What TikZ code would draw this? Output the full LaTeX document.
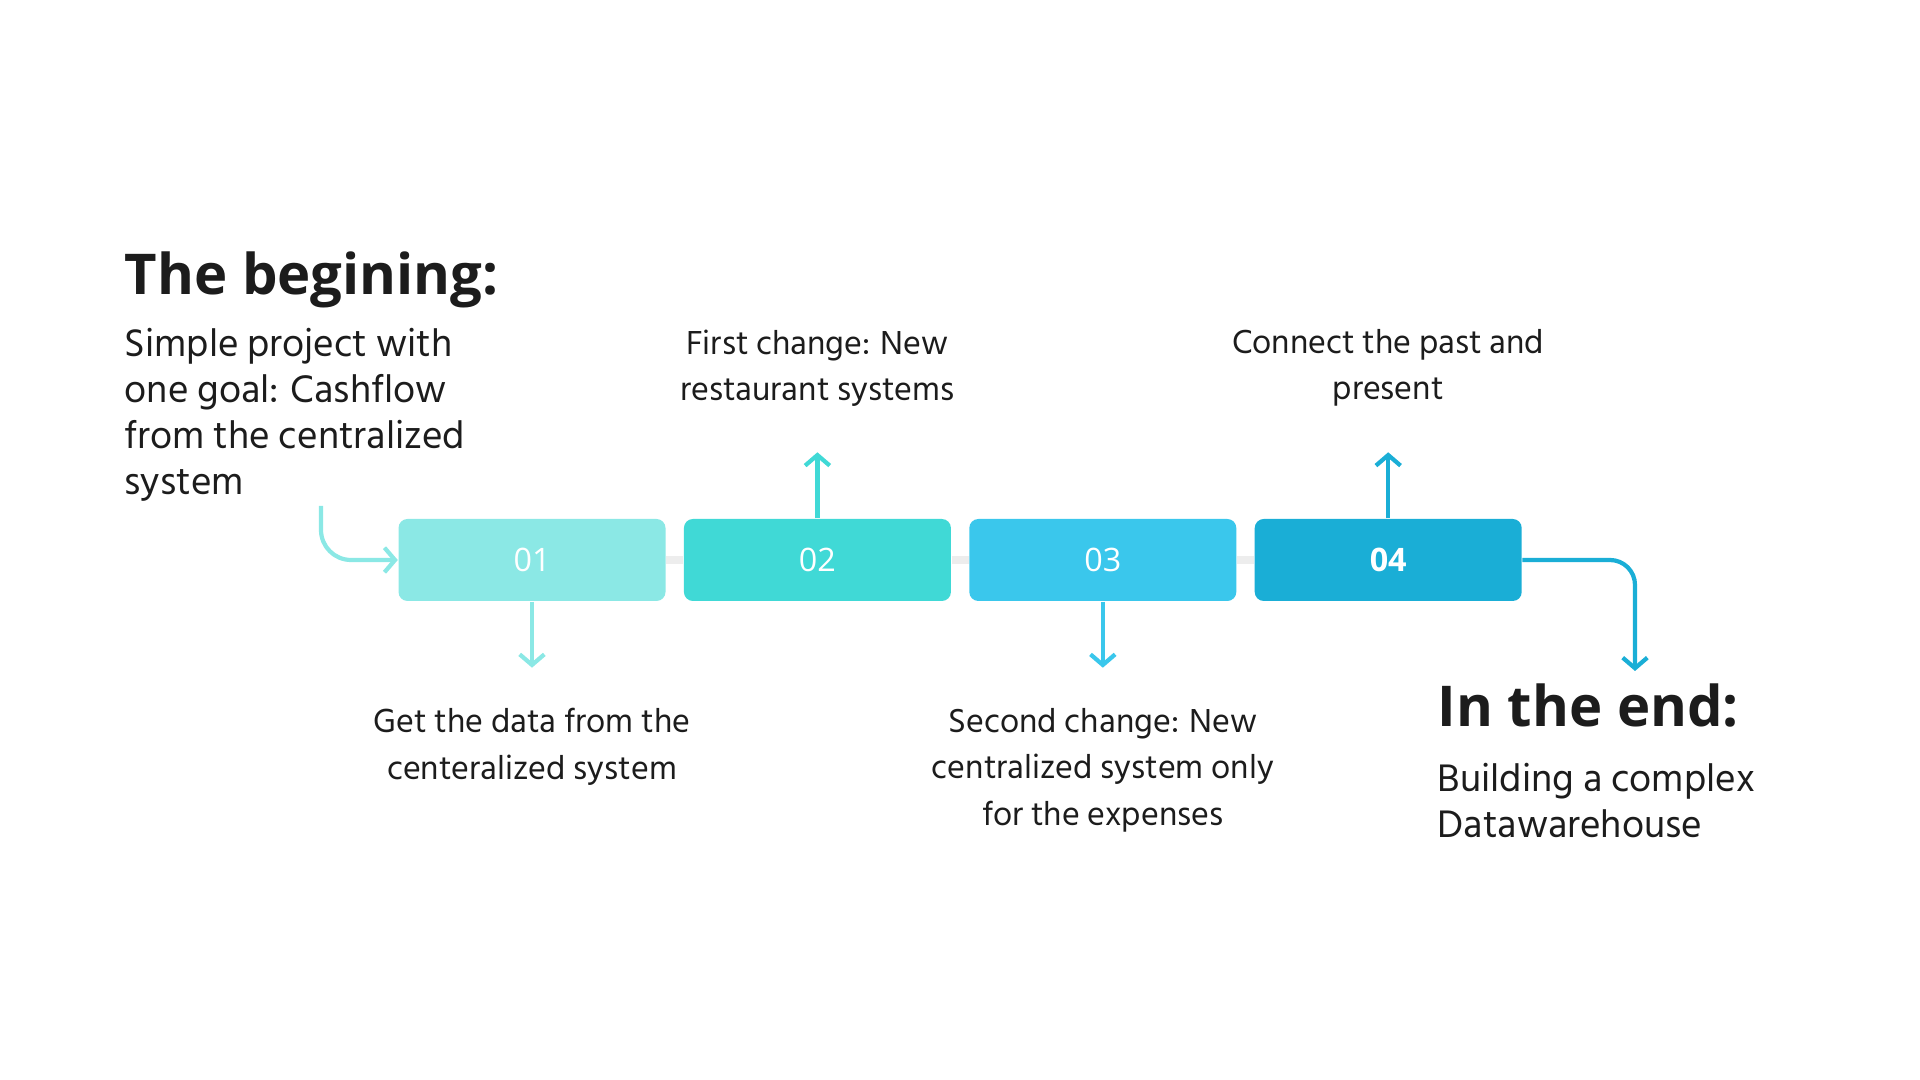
\documentclass[tikz,border=0pt]{standalone}
\usepackage{fontspec}
\setmainfont{Open Sans}
\newfontfamily\hindfont{Hind Siliguri}
\usetikzlibrary{arrows.meta, positioning}
\definecolor{stepA}{HTML}{8BE8E5}
\definecolor{stepB}{HTML}{40D9D6}
\definecolor{stepC}{HTML}{3AC7EC}
\definecolor{stepD}{HTML}{1AAED6}
\definecolor{ink}{HTML}{1C1C1C}

\begin{document}
\begin{tikzpicture}[every node/.style={inner sep=0pt},
    box/.style={rectangle, rounded corners=0.09cm, minimum width=2.67cm,
                minimum height=0.82cm, text=white, font=\fontsize{9.2}{10}\selectfont},
    arr/.style={-{Straight Barb[length=3pt,width=7pt]}, line width=1.2pt},
    link/.style={draw=black!7, line width=2pt},
    note/.style={align=center, text=ink, font=\hindfont\fontsize{9.7}{13.2}\selectfont},
    head/.style={text=ink, font=\bfseries\fontsize{16}{20}\selectfont},
    body/.style={align=left, text=ink, font=\hindfont\fontsize{11.2}{13.1}\selectfont}]
    \useasboundingbox (0,0) rectangle (19.2,10.8);

    % the four steps
    \node[box, fill=stepA] (s1) at (5.32,5.20) {01};
    \node[box, fill=stepB, right=0.17cm of s1] (s2) {02};
    \node[box, fill=stepC, right=0.17cm of s2] (s3) {03};
    \node[box, fill=stepD, right=0.17cm of s3, font=\bfseries\fontsize{9.2}{10}\selectfont] (s4) {04};
    \draw[link] (s1) -- (s2); \draw[link] (s2) -- (s3); \draw[link] (s3) -- (s4);

    % arrow tips
    \coordinate[below=0.66cm of s1] (t1);
    \coordinate[above=0.66cm of s2] (t2);
    \coordinate[below=0.66cm of s3] (t3);
    \coordinate[above=0.66cm of s4] (t4);
    \coordinate (s0) at (3.21,5.74);
    \coordinate (e0) at (16.35,4.09);

    \draw[arr, stepA] (s1) -- (t1);
    \draw[arr, stepB] (s2) -- (t2);
    \draw[arr, stepC] (s3) -- (t3);
    \draw[arr, stepD] (s4) -- (t4);
    \draw[arr, stepA, rounded corners=0.3cm] (s0) |- (s1.west);
    \draw[arr, stepD, rounded corners=0.25cm] (s4.east) -| (e0);

    % notes
    \node[note, below=0.4cm of t1] (n1) {Get the data from the\\centeralized system};
    \node[note, above=0.45cm of t2] (n2) {First change: New\\restaurant systems};
    \node[note, below=0.4cm of t3] (n3) {Second change: New\\centralized system only\\for the expenses};
    \node[note, above=0.45cm of t4] (n4) {Connect the past and\\present};

    % start and end
    \node[head, anchor=base west] (beg) at (1.24,7.85) {The begining:};
    \node[body, below=0.18cm of beg.south west, anchor=north west] (begtxt)
        {Simple project with\\one goal: Cashflow\\from the centralized\\system};
    \node[head, anchor=base west] (fin) at (14.37,3.53) {In the end:};
    \node[body, below=0.34cm of fin.south west, anchor=north west] (fintxt)
        {Building a complex\\Datawarehouse};
\end{tikzpicture}
\end{document}
